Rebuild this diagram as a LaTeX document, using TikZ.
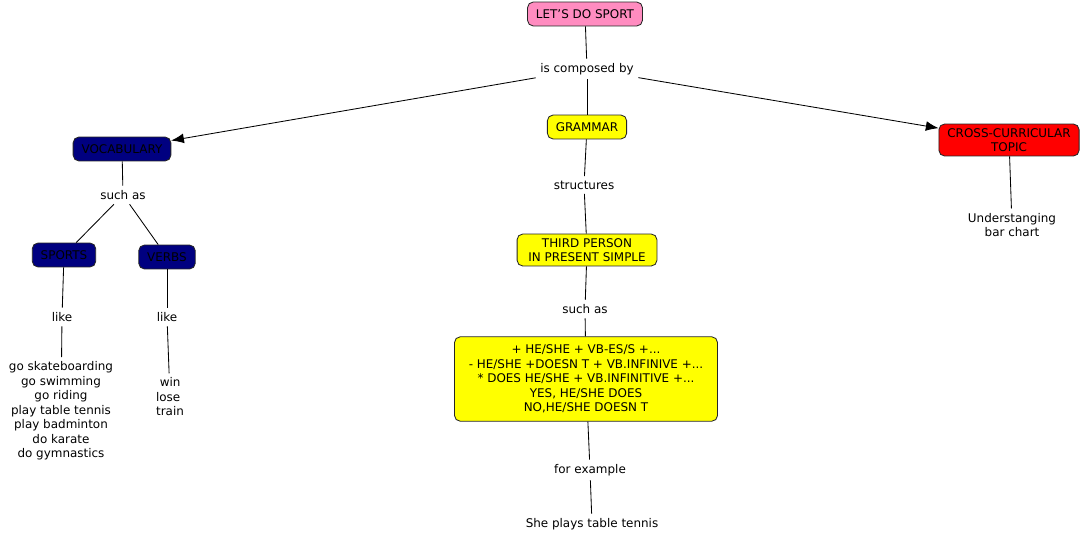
\documentclass[tikz,border=0pt]{standalone}
\usepackage{fontspec}
\setmainfont{DejaVu Sans}
\usetikzlibrary{arrows.meta}
\definecolor{pinkbox}{RGB}{255,140,192}
\definecolor{navybox}{RGB}{0,0,128}
\definecolor{yellowbox}{RGB}{255,255,0}
\begin{document}
\begin{tikzpicture}[x=0.025cm,y=-0.025cm,
  font=\fontsize{8.5}{10.3}\selectfont,
  concept/.style={draw=black!85,rounded corners=4pt,align=center,
    inner xsep=6pt,inner ysep=3pt,minimum height=17pt},
  link/.style={align=center,inner sep=3pt},
  every path/.style={line width=0.6pt},
  >={Latex[length=9pt,width=7pt]}]
  \useasboundingbox (0,0) rectangle (1083,541);
  \node[concept,fill=pinkbox](sport) at (585,14) {LET'S DO SPORT};
  \node[link](comp) at (587,69) {is composed by};
  \node[concept,fill=navybox](vocab) at (122,149) {VOCABULARY};
  \node[concept,fill=yellowbox](gram) at (587,127) {GRAMMAR};
  \node[concept,fill=red](cross) at (1009,140) {CROSS-CURRICULAR\\TOPIC};
  \node[link](such1) at (123,195) {such as};
  \node[concept,fill=navybox](sports) at (64,255) {SPORTS};
  \node[concept,fill=navybox](verbs) at (167,257) {VERBS};
  \node[link](like1) at (62,317) {like};
  \node[link](like2) at (167,317) {like};
  \node[link](list1) at (61,411) {go skateboarding\\go swimming\\go riding\\play table tennis\\play badminton\\do karate\\do gymnastics};
  \node[link,align=left](list2) at (170,397) {\ win\\lose\\train};
  \node[link](struct) at (584,185) {structures};
  \node[concept,fill=yellowbox,inner xsep=8pt](third) at (587,250) {THIRD PERSON\\IN PRESENT SIMPLE};
  \node[link](such2) at (585,309) {such as};
  \node[concept,fill=yellowbox,minimum width=187pt,minimum height=60pt](rules) at (586,379)
    {+ HE/SHE + VB-ES/S +...\\- HE/SHE +DOESN T + VB.INFINIVE +...\\* DOES HE/SHE + VB.INFINITIVE +...\\YES, HE/SHE DOES\\NO,HE/SHE DOESN T};
  \node[link](forex) at (590,470) {for example};
  \node[link](plays) at (592,524) {She plays table tennis};
  \node[link](chart) at (1012,225) {Understanging\\bar chart};
  \draw (sport) -- (comp);
  \draw[->] (comp) -- (vocab);
  \draw (comp) -- (gram);
  \draw[->] (comp) -- (cross);
  \draw (vocab) -- (such1);
  \draw (such1) -- (sports);
  \draw (such1) -- (verbs);
  \draw (sports) -- (like1);
  \draw (like1) -- (list1);
  \draw (verbs) -- (like2);
  \draw (like2) -- (list2);
  \draw (gram) -- (struct);
  \draw (struct) -- (third);
  \draw (third) -- (such2);
  \draw (such2) -- (rules);
  \draw (rules) -- (forex);
  \draw (forex) -- (plays);
  \draw (cross) -- (chart);
\end{tikzpicture}
\end{document}
